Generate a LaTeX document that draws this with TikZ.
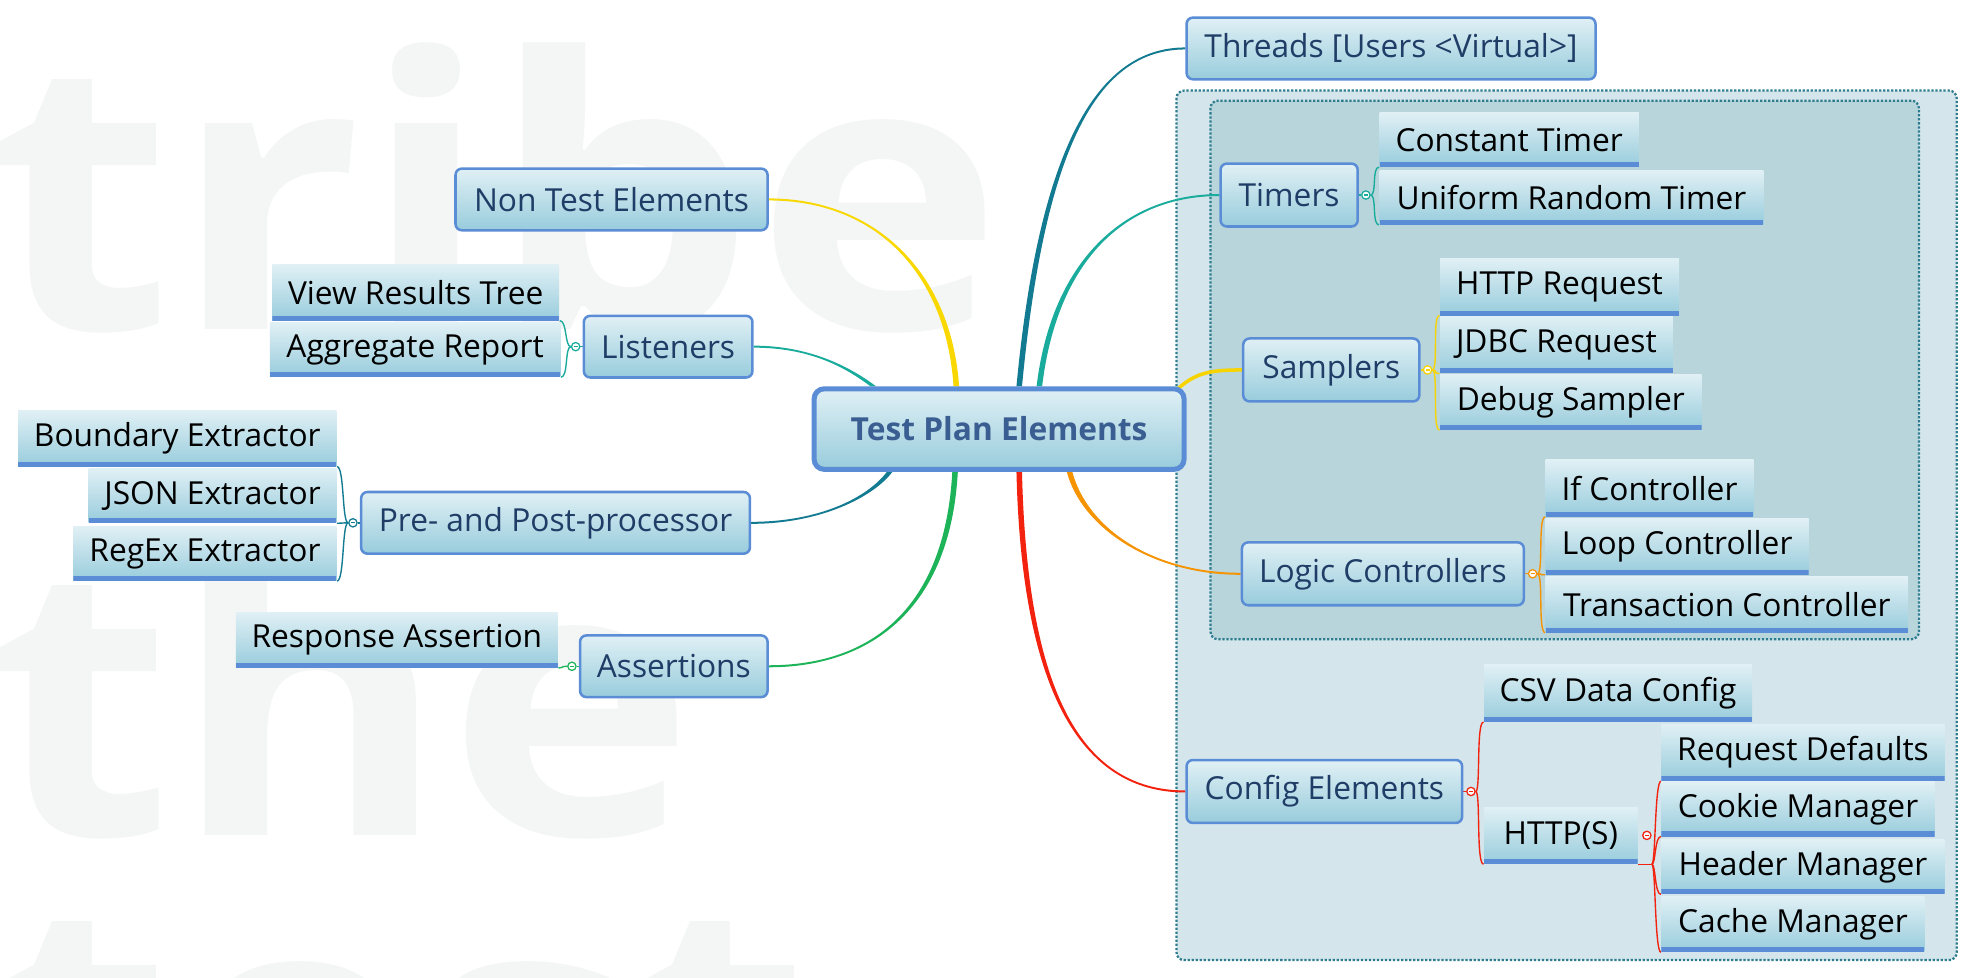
\documentclass[tikz,border=0pt]{standalone}
\usepackage{fontspec}
\setmainfont{Open Sans}
\usetikzlibrary{calc}
\pgfdeclarelayer{bg}
\pgfdeclarelayer{mid}
\pgfsetlayers{bg,mid,main}
\definecolor{boxtop}{HTML}{E0F0F5}
\definecolor{boxbot}{HTML}{98CCDC}
\definecolor{boxline}{HTML}{5B8DD6}
\definecolor{navy}{HTML}{1F3D66}
\definecolor{roottxt}{HTML}{3A5E91}
\definecolor{wm}{HTML}{F4F6F5}
\definecolor{outerfill}{HTML}{D4E6EB}
\definecolor{innerfill}{HTML}{B8D5DC}
\definecolor{dotc}{HTML}{2E7D8F}
\definecolor{cThr}{HTML}{127A91}
\definecolor{cTim}{HTML}{19AB9C}
\definecolor{cSam}{HTML}{F7D400}
\definecolor{cLog}{HTML}{F59300}
\definecolor{cCfg}{HTML}{F3220F}
\definecolor{cNon}{HTML}{F8D800}
\definecolor{cLis}{HTML}{19AB9C}
\definecolor{cPre}{HTML}{127A91}
\definecolor{cAss}{HTML}{1DB359}
% tapered connector: color, start, end, c1, c2, yshift at end
\newcommand\conn[6]{\fill[#1] ([xshift=-1.1pt]#2) .. controls +#4 and +#5 .. ([yshift=#6]#3) -- ([yshift={-1*(#6)}]#3) .. controls +#5 and +#4 .. ([xshift=1.1pt]#2) -- cycle;}
\newcommand\minus[2]{\draw[#1,line width=0.45pt] ([xshift=-0.8pt]#2.center) -- ([xshift=0.8pt]#2.center);}
\begin{document}
\begin{tikzpicture}[x=0.5pt,y=-0.5pt,
  every node/.style={font=\fontsize{12.6}{15}\selectfont},
  bx/.style 2 args={minimum width={(#1)*0.5pt}, minimum height={(#2)*0.5pt}},
  branch/.style={top color=boxtop, bottom color=boxbot, draw=boxline, line width=1pt,
     rounded corners=2.5pt, text=navy, inner sep=0pt, anchor=north west},
  leaf/.style={top color=boxtop, bottom color=boxbot, inner sep=0pt, anchor=north west, text=black,
     path picture={\draw[boxline,line width=3.6pt] (path picture bounding box.south west) -- (path picture bounding box.south east);}},
  rootnode/.style={top color=boxtop, bottom color=boxbot, draw=boxline, line width=2pt,
     rounded corners=4pt, text=roottxt, inner sep=0pt, anchor=north west,
     font=\fontsize{12.6}{15}\selectfont\bfseries},
  marker/.style={circle, draw=#1, fill=white, line width=0.5pt, minimum size=3.3pt, inner sep=0pt},
  brk/.style={line width=0.55pt},
  dotbox/.style={draw=dotc, line width=0.9pt, dash pattern=on 0.9pt off 0.7pt, rounded corners=3pt},
  wmtext/.style={text=wm, anchor=base west, inner sep=0pt, transform shape, font=\fontsize{150}{150}\selectfont\bfseries}
]
\useasboundingbox (0,0) rectangle (1568,777);
\clip (0,0) rectangle (1568,777);

\begin{pgfonlayer}{bg}
\fill[white] (0,0) rectangle (1568,777);
% watermark
\begin{scope}[shift={(-8,262)}, xscale=1.11]
\node[wmtext] (wm1) at (0,0) {tribe};
\end{scope}
\begin{scope}[shift={(-8,664)}, xscale=1.11]
\node[wmtext] (wm2) at (0,0) {the};
\end{scope}
\begin{scope}[shift={(-8,931)}, xscale=1.11]
\node[wmtext] (wm3) at (0,0) {test};
\end{scope}
% group boxes
\draw[dotbox, fill=outerfill] (935,72) rectangle (1555,763);
\draw[dotbox, fill=innerfill] (962,80) rectangle (1525,508);
\end{pgfonlayer}

% root
\node[rootnode, bx={294}{64}] (root) at (645,307) {Test Plan Elements};

% branches
\node[branch, bx={325}{49}] (thr) at (942,13) {Threads [Users <Virtual>]};
\node[branch, bx={109}{50}] (tim) at (969,129) {Timers};
\node[branch, bx={140}{50}] (sam) at (987,268) {Samplers};
\node[branch, bx={224}{50}] (log) at (986,430) {Logic Controllers};
\node[branch, bx={219}{50}] (cfg) at (942,603) {Config Elements};
\node[branch, bx={248}{49}] (non) at (361,133) {Non Test Elements};
\node[branch, bx={134}{49}] (lis) at (463,250) {Listeners};
\node[branch, bx={309}{49}] (pre) at (286,390) {Pre- and Post-processor};
\node[branch, bx={149}{49}] (ass) at (460,504) {Assertions};

% leaves
\node[leaf, bx={206}{43}] (ct) at (1096,89) {Constant Timer};
\node[leaf, bx={305}{43}] (urt) at (1096,135) {Uniform Random Timer};
\node[leaf, bx={190}{45}] (hr) at (1144,205) {HTTP Request};
\node[leaf, bx={185}{45}] (jr) at (1144,251) {JDBC Request};
\node[leaf, bx={208}{44}] (ds) at (1144,297) {Debug Sampler};
\node[leaf, bx={165}{45}] (ic) at (1228,365) {If Controller};
\node[leaf, bx={209}{44}] (lc) at (1228,412) {Loop Controller};
\node[leaf, bx={288}{44}] (tc) at (1228,458) {Transaction Controller};
\node[leaf, bx={213}{45}] (csv) at (1179,528) {CSV Data Config};
\node[leaf, bx={122}{45}] (hs) at (1179,641) {HTTP(S)};
\node[leaf, bx={225}{45}] (rd) at (1320,575) {Request Defaults};
\node[leaf, bx={217}{43}] (cm) at (1320,621) {Cookie Manager};
\node[leaf, bx={225}{43}] (hm) at (1320,667) {Header Manager};
\node[leaf, bx={209}{44}] (cam) at (1320,712) {Cache Manager};
\node[leaf, bx={228}{44}] (vrt) at (216,210) {View Results Tree};
\node[leaf, bx={231}{43}] (agg) at (214,256) {Aggregate Report};
\node[leaf, bx={253}{44}] (be) at (14,326) {Boundary Extractor};
\node[leaf, bx={197}{43}] (js) at (70,372) {JSON Extractor};
\node[leaf, bx={209}{43}] (rx) at (58,418) {RegEx Extractor};
\node[leaf, bx={256}{44}] (ra) at (187,486) {Response Assertion};

% main connectors
\coordinate (sThr) at ([xshift=8pt]root.north);
\coordinate (sTim) at ([xshift=16pt]root.north);
\coordinate (sNon) at ([xshift=-17pt]root.north);
\coordinate (sLis) at ([xshift=-50pt]root.north);
\coordinate (sSam) at ([xshift=-4pt,yshift=-1.5pt]root.north east);
\coordinate (sCfg) at ([xshift=8pt]root.south);
\coordinate (sLog) at ([xshift=28pt]root.south);
\coordinate (sPre) at ([xshift=-43.5pt]root.south);
\coordinate (sAss) at ([xshift=-17.5pt]root.south);
\begin{pgfonlayer}{mid}
\conn{cThr}{sThr}{thr.west}{(18,-190)}{(-70,0)}{0.4pt}
\conn{cTim}{sTim}{tim.west}{(12,-100)}{(-75,0)}{0.4pt}
\conn{cLog}{sLog}{log.west}{(12,45)}{(-70,0)}{-0.4pt}
\conn{cCfg}{sCfg}{cfg.west}{(4,170)}{(-85,0)}{-0.4pt}
\conn{cNon}{sNon}{non.east}{(-6,-90)}{(85,0)}{-0.4pt}
\conn{cLis}{sLis}{lis.east}{(-20,-15)}{(45,0)}{-0.4pt}
\conn{cPre}{sPre}{pre.east}{(-15,20)}{(55,0)}{0.4pt}
\conn{cAss}{sAss}{ass.east}{(-6,110)}{(80,0)}{0.4pt}
\draw[cSam, line width=1.4pt] (sSam) .. controls +(15,-14) and +(-25,0) .. (sam.west);
\end{pgfonlayer}

% markers and child brackets
\node[marker=cTim] (mTim) at ([xshift=2.75pt]tim.east) {};
\node[marker=cSam] (mSam) at ([xshift=2.75pt]sam.east) {};
\node[marker=cLog] (mLog) at ([xshift=3pt]log.east) {};
\node[marker=cCfg] (mCfg) at ([xshift=3pt]cfg.east) {};
\node[marker=cCfg] (mHs) at ([xshift=3.5pt]hs.east) {};
\node[marker=cLis] (mLis) at ([xshift=-2.75pt]lis.west) {};
\node[marker=cPre] (mPre) at ([xshift=-2.75pt]pre.west) {};
\node[marker=cAss] (mAss) at ([xshift=-2.75pt]ass.west) {};
\minus{cTim}{mTim}\minus{cSam}{mSam}\minus{cLog}{mLog}\minus{cCfg}{mCfg}
\minus{cCfg}{mHs}\minus{cLis}{mLis}\minus{cPre}{mPre}\minus{cAss}{mAss}

\begin{pgfonlayer}{mid}
\draw[brk,cTim] (tim.east) -- (mTim.west);
\foreach \c in {ct,urt} \draw[brk,cTim] (mTim.east) .. controls +(5,0) and +(-6,0) .. (\c.south west);
\draw[brk,cSam] (sam.east) -- (mSam.west);
\foreach \c in {hr,jr,ds} \draw[brk,cSam] (mSam.east) .. controls +(5,0) and +(-6,0) .. (\c.south west);
\draw[brk,cLog] (log.east) -- (mLog.west);
\foreach \c in {ic,lc,tc} \draw[brk,cLog] (mLog.east) .. controls +(5,0) and +(-6,0) .. (\c.south west);
\draw[brk,cCfg] (cfg.east) -- (mCfg.west);
\foreach \c in {csv,hs} \draw[brk,cCfg] (mCfg.east) .. controls +(4,0) and +(-6,0) .. (\c.south west);
\coordinate (hb) at ([xshift=5.5pt]hs.south east);
\draw[brk,cCfg] (hs.south east) -- (hb);
\foreach \c in {rd,cm,hm,cam} \draw[brk,cCfg] (hb) .. controls +(3,0) and +(-5,0) .. (\c.south west);
\draw[brk,cLis] (lis.west) -- (mLis.east);
\foreach \c in {vrt,agg} \draw[brk,cLis] (mLis.west) .. controls +(-5,0) and +(6,0) .. (\c.south east);
\draw[brk,cPre] (pre.west) -- (mPre.east);
\foreach \c in {be,js,rx} \draw[brk,cPre] (mPre.west) .. controls +(-5,0) and +(6,0) .. (\c.south east);
\draw[brk,cAss] (ass.west) -- (mAss.east);
\draw[brk,cAss] (mAss.west) .. controls +(-5,0) and +(4,0) .. (ra.south east);
\end{pgfonlayer}
\end{tikzpicture}
\end{document}
